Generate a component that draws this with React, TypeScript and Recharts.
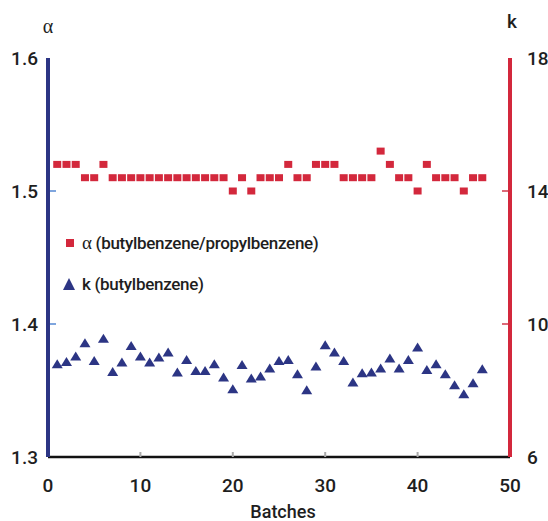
import React from 'react';
import { ScatterChart, Scatter, XAxis, YAxis } from 'recharts';

const batches = [
  1, 2, 3, 4, 5, 6, 7, 8, 9, 10, 11, 12, 13, 14, 15, 16, 17, 18, 19, 20, 21, 22, 23, 24,
  25, 26, 27, 28, 29, 30, 31, 32, 33, 34, 35, 36, 37, 38, 39, 40, 41, 42, 43, 44, 45, 46, 47,
];
const alphaValues = [
  1.52, 1.52, 1.52, 1.51, 1.51, 1.52, 1.51, 1.51, 1.51, 1.51, 1.51, 1.51, 1.51, 1.51, 1.51, 1.51,
  1.51, 1.51, 1.51, 1.5, 1.51, 1.5, 1.51, 1.51, 1.51, 1.52, 1.51, 1.51, 1.52, 1.52, 1.52, 1.51,
  1.51, 1.51, 1.51, 1.53, 1.52, 1.51, 1.51, 1.5, 1.52, 1.51, 1.51, 1.51, 1.5, 1.51, 1.51,
];
const kValues = [
  8.79, 8.86, 9.02, 9.42, 8.89, 9.56, 8.56, 8.84, 9.34, 9.02, 8.84, 8.99, 9.14, 8.54, 8.92, 8.59,
  8.59, 8.79, 8.39, 8.04, 8.77, 8.36, 8.42, 8.66, 8.89, 8.92, 8.49, 8.01, 8.72, 9.36, 9.14, 8.89,
  8.24, 8.52, 8.54, 8.66, 8.96, 8.66, 8.92, 9.29, 8.62, 8.79, 8.49, 8.16, 7.89, 8.22, 8.64,
];
const xTicks = [0, 10, 20, 30, 40, 50];
const alphaTicks = [1.3, 1.4, 1.5, 1.6];
const kTicks = [6, 10, 14, 18];

const alphaData = batches.map((b, i) => ({ batch: b, y: alphaValues[i] }));
const kData = batches.map((b, i) => ({ batch: b, y: kValues[i] }));

const RED = '#d3283c';
const BLUE = '#2c3584';
const FONT = "Roboto, 'Liberation Sans', Arial, sans-serif";
const WEIGHT = 500;
const TEXT = '#1e1e1e';

const RedSquare = (props: any) => {
  const { cx, cy } = props;
  if (cx == null || cy == null) return null;
  return <rect x={cx - 4} y={cy - 3.5} width={8} height={7} fill={RED} />;
};

const BlueTriangle = (props: any) => {
  const { cx, cy } = props;
  if (cx == null || cy == null) return null;
  return (
    <polygon
      points={`${cx},${cy - 5} ${cx - 5.5},${cy + 4} ${cx + 5.5},${cy + 4}`}
      fill={BLUE}
    />
  );
};

const LeftTick = (props: any) => {
  const { x, y, payload } = props;
  const inner = payload.value !== 1.3 && payload.value !== 1.6;
  return (
    <g>
      <text x={x} y={y} dy="0.35em" textAnchor="end" fill={TEXT} fontSize={19} fontWeight={WEIGHT} fontFamily={FONT}>
        {payload.value.toFixed(1)}
      </text>
      {inner && <line x1={x + 12} x2={x + 18} y1={y} y2={y} stroke="#7fa6de" strokeWidth={2} />}
    </g>
  );
};

const RightTick = (props: any) => {
  const { x, y, payload } = props;
  const inner = payload.value !== 6 && payload.value !== 18;
  return (
    <g>
      <text x={x} y={y} dy="0.35em" textAnchor="start" fill={TEXT} fontSize={19} fontWeight={WEIGHT} fontFamily={FONT}>
        {payload.value}
      </text>
      {inner && <line x1={x - 19} x2={x - 25} y1={y} y2={y} stroke="#dc6a78" strokeWidth={2} />}
    </g>
  );
};

const BottomTick = (props: any) => {
  const { x, y, payload } = props;
  const inner = payload.value !== 0 && payload.value !== 50;
  return (
    <g>
      <text x={x} y={y} dy="0.71em" textAnchor="middle" fill={TEXT} fontSize={19} fontWeight={WEIGHT} fontFamily={FONT}>
        {payload.value}
      </text>
      {inner && <line x1={x} x2={x} y1={y - 22} y2={y - 27} stroke="#aaaaaa" strokeWidth={2} />}
    </g>
  );
};

const LegendOverlay = () => (
  <div
    style={{
      position: 'absolute',
      top: 233,
      left: 62,
      fontFamily: FONT,
      fontWeight: WEIGHT,
      fontSize: 17,
      letterSpacing: -0.3,
      color: TEXT,
      lineHeight: '20px',
      pointerEvents: 'none',
      whiteSpace: 'nowrap',
    }}
  >
    <div style={{ display: 'flex', alignItems: 'center', height: 20 }}>
      <svg width={16} height={14} style={{ marginRight: 4 }}>
        <rect x={4} y={3} width={8} height={8} fill={RED} />
      </svg>
      <span>
        <span style={{ fontFamily: "'Liberation Serif', serif", fontWeight: 400, fontSize: 19 }}>α</span> (butylbenzene/propylbenzene)
      </span>
    </div>
    <div style={{ display: 'flex', alignItems: 'center', height: 20, marginTop: 21 }}>
      <svg width={16} height={14} style={{ marginRight: 4 }}>
        <polygon points="7,1 1,13 13,13" fill={BLUE} />
      </svg>
      <span>k (butylbenzene)</span>
    </div>
  </div>
);

export default function App() {
  return (
    <div style={{ position: 'absolute', left: 0, top: 0, width: 548, height: 521, background: '#fff' }}>
      <ScatterChart width={548} height={521} margin={{ top: 58, right: 0, bottom: 0, left: 0 }}>
        <XAxis
          type="number"
          dataKey="batch"
          domain={[0, 50]}
          ticks={xTicks}
          height={64}
          tickSize={0}
          tickMargin={22}
          tick={<BottomTick />}
          axisLine={{ stroke: '#111111', strokeWidth: 2.5 }}
          label={{
            content: (p: any) => {
              const vb = p.viewBox;
              return (
                <text
                  x={vb.x + vb.width / 2 + 4}
                  y={vb.y + 61}
                  textAnchor="middle"
                  fill={TEXT}
                  fontSize={18}
                  fontWeight={WEIGHT}
                  fontFamily={FONT}
                >
                  Batches
                </text>
              );
            },
          }}
        />
        <YAxis
          yAxisId="left"
          type="number"
          dataKey="y"
          domain={[1.3, 1.6]}
          ticks={alphaTicks}
          width={48}
          tickSize={0}
          tickMargin={10}
          tick={<LeftTick />}
          axisLine={{ stroke: BLUE, strokeWidth: 4 }}
          label={{
            content: (p: any) => {
              const vb = p.viewBox;
              return (
                <text
                  x={vb.x + vb.width}
                  y={vb.y - 25}
                  textAnchor="middle"
                  fill={TEXT}
                  fontSize={20}
                  fontFamily="'Liberation Serif', serif"
                >
                  α
                </text>
              );
            },
          }}
        />
        <YAxis
          yAxisId="right"
          orientation="right"
          type="number"
          dataKey="y"
          domain={[6, 18]}
          ticks={kTicks}
          width={38}
          tickSize={0}
          tickMargin={17}
          tick={<RightTick />}
          axisLine={{ stroke: RED, strokeWidth: 4 }}
          label={{
            content: (p: any) => {
              const vb = p.viewBox;
              return (
                <text
                  x={vb.x + 2}
                  y={vb.y - 30}
                  textAnchor="middle"
                  fill={TEXT}
                  fontSize={19}
                  fontWeight={WEIGHT}
                  fontFamily={FONT}
                >
                  k
                </text>
              );
            },
          }}
        />
        <Scatter yAxisId="left" data={alphaData} shape={<RedSquare />} isAnimationActive={false} />
        <Scatter yAxisId="right" data={kData} shape={<BlueTriangle />} isAnimationActive={false} />
      </ScatterChart>
      <LegendOverlay />
    </div>
  );
}
